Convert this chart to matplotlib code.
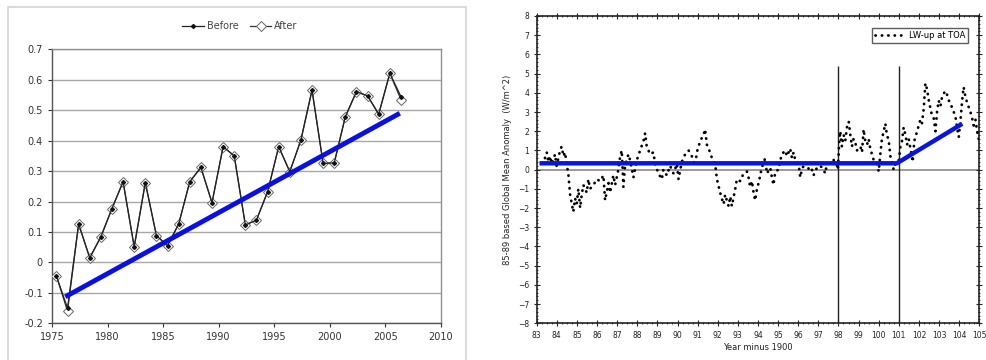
import numpy as np
import matplotlib
matplotlib.use("Agg")
import matplotlib.pyplot as plt
from matplotlib.patches import Rectangle
from matplotlib.ticker import MultipleLocator

# ---------------- Left panel data ----------------
years = [1975, 1976, 1977, 1978, 1979, 1980, 1981, 1982, 1983, 1984, 1985,
         1986, 1987, 1988, 1989, 1990, 1991, 1992, 1993, 1994, 1995, 1996,
         1997, 1998, 1999, 2000, 2001, 2002, 2003, 2004, 2005, 2006]
before = [-0.045, -0.150, 0.126, 0.015, 0.084, 0.177, 0.265, 0.051, 0.262,
          0.088, 0.055, 0.126, 0.265, 0.312, 0.196, 0.380, 0.350, 0.123,
          0.139, 0.232, 0.380, 0.298, 0.402, 0.566, 0.325, 0.327, 0.479,
          0.561, 0.547, 0.487, 0.621, 0.545]
after = [-0.045, -0.160, 0.126, 0.015, 0.084, 0.177, 0.265, 0.051, 0.262,
         0.088, 0.055, 0.126, 0.265, 0.312, 0.196, 0.380, 0.350, 0.123,
         0.139, 0.232, 0.380, 0.298, 0.402, 0.566, 0.325, 0.327, 0.479,
         0.561, 0.547, 0.487, 0.621, 0.535]
trend_x = [1976.2, 2006.3]
trend_y = [-0.113, 0.490]
left_xticks = [1975, 1980, 1985, 1990, 1995, 2000, 2005, 2010]
left_yticks = [-0.2, -0.1, 0.0, 0.1, 0.2, 0.3, 0.4, 0.5, 0.6, 0.7]
left_yticklabels = ["-0.2", "-0.1", "0", "0.1", "0.2", "0.3", "0.4", "0.5", "0.6", "0.7"]

# ---------------- Right panel data ----------------
lw_years = [83.41, 83.50, 83.58, 83.66, 83.75, 83.83, 83.91, 83.99, 84.08, 84.16,
            84.24, 84.33, 84.41, 84.49, 84.58, 84.66, 84.82, 84.91, 84.99, 85.07,
            85.16, 85.24, 85.32, 85.49, 85.57, 85.65, 85.82, 85.99, 86.15, 86.32,
            86.40, 86.57, 86.65, 86.81, 86.90, 87.06, 87.15, 87.23, 87.31, 87.39,
            87.56, 87.64, 87.81, 87.98, 88.14, 88.31, 88.39, 88.47, 88.64, 88.80,
            88.89, 89.05, 89.22, 89.30, 89.47, 89.63, 89.80, 89.97, 90.05, 90.21,
            90.38, 90.55, 90.71, 90.88, 90.96, 91.13, 91.29, 91.37, 91.46, 91.62,
            91.71, 91.87, 91.96, 92.12, 92.20, 92.29, 92.37, 92.45, 92.54, 92.62,
            92.70, 92.87, 92.95, 93.12, 93.28, 93.45, 93.53, 93.61, 93.70, 93.78,
            93.86, 93.95, 94.03, 94.11, 94.19, 94.36, 94.44, 94.61, 94.69, 94.77,
            94.86, 95.02, 95.11, 95.19, 95.35, 95.44, 95.60, 95.69, 95.77, 95.85,
            96.02, 96.10, 96.18, 96.35, 96.43, 96.60, 96.68, 96.76, 96.93, 97.10,
            97.26, 97.34, 97.43, 97.59, 97.76, 97.93, 97.97, 98.04, 98.09, 98.17,
            98.26, 98.34, 98.42, 98.51, 98.59, 98.67, 98.75, 98.84, 98.92, 99.09,
            99.17, 99.25, 99.33, 99.42, 99.50, 99.58, 99.75, 99.92, 100.00, 100.08,
            100.16, 100.25, 100.33, 100.41, 100.50, 100.58, 100.66, 100.74, 100.83, 100.99,
            101.08, 101.16, 101.24, 101.33, 101.41, 101.49, 101.61, 101.69, 101.77, 101.91,
            102.07, 102.15, 102.24, 102.32, 102.40, 102.49, 102.57, 102.65, 102.73, 102.82,
            102.90, 102.98, 103.07, 103.15, 103.31, 103.40, 103.48, 103.56, 103.65, 103.73,
            103.81, 103.89, 103.98, 104.06, 104.14, 104.22, 104.31, 104.39, 104.56, 104.64,
            104.72, 104.81, 104.89, 104.97]
lw_values = [0.6, 0.9, 0.4, 0.7, 0.3, 0.5, 0.8, 0.2, 0.6, 1.0,
             1.2, 0.7, 0.9, 0.3, -0.3, -1.3, -2.2, -1.5, -1.8, -1.0,
             -2.0, -1.3, -0.8, -1.2, -0.5, -1.0, -0.8, -0.5, -0.6, -0.3,
             -1.6, -0.7, -1.2, -0.3, -0.8, 0.0, 0.7, 1.0, -0.9, 0.2,
             0.8, 0.5, -0.4, 0.5, 1.0, 1.5, 1.9, 1.2, 0.8, 0.9,
             0.3, -0.2, -0.5, 0.0, -0.3, 0.2, -0.2, 0.3, -0.5, 0.4,
             0.8, 1.0, 0.7, 0.2, 0.9, 1.5, 1.8, 2.1, 1.3, 0.9,
             0.6, 0.3, -0.5, -1.2, -1.5, -1.8, -1.3, -1.6, -1.9, -1.4,
             -1.9, -1.0, -0.5, -0.6, -0.2, -0.1, -0.4, -0.9, -0.6, -1.2,
             -1.6, -1.0, -0.7, -0.3, 0.1, 0.6, -0.2, 0.1, -0.4, -0.8,
             -0.1, 0.0, 0.5, 0.8, 1.0, 0.7, 1.1, 0.6, 0.9, 0.5,
             0.3, -0.4, 0.0, 0.4, 0.2, -0.1, 0.0, -0.3, 0.1, 0.2,
             0.0, -0.2, 0.3, 0.4, 0.5, 0.2, 0.0, 1.5, 2.0, 1.2,
             1.8, 1.5, 2.2, 2.5, 1.8, 1.2, 1.6, 1.4, 1.0, 1.2,
             0.9, 2.1, 1.5, 1.3, 1.6, 1.1, 0.5, 0.3, -0.1, 0.8,
             1.6, 2.0, 2.4, 1.8, 1.5, 0.7, 0.5, 0.0, 0.3, 0.4,
             1.2, 1.5, 2.2, 1.8, 1.3, 1.6, 0.9, 0.4, 1.5, 2.0,
             2.6, 2.4, 3.2, 4.5, 4.2, 3.6, 3.2, 2.8, 2.7, 2.0,
             3.0, 3.6, 3.3, 3.8, 4.1, 3.9, 3.6, 3.5, 3.2, 3.0,
             2.8, 2.2, 1.7, 2.5, 3.5, 4.3, 3.8, 3.5, 3.0, 2.7,
             2.3, 2.6, 2.0, 1.6]
fit_x = [83.25, 100.9, 104.06]
fit_y = [0.33, 0.33, 2.33]
break_years = [98, 101]
break_top = 5.4
right_xticks = list(range(83, 106))
right_yticks = list(range(-8, 9))

# ---------------- Figure ----------------
fig = plt.figure(figsize=(9.86, 3.6), dpi=100)
fig.patch.set_facecolor("white")

# light outer frame of the left (Excel) chart
fig.patches.append(Rectangle((8 / 986, -0.05), 458 / 986, 1 - 7 / 360 + 0.05,
                             transform=fig.transFigure, fill=False,
                             edgecolor="#d4d4d4", linewidth=1.2))

# ---- Left axes ----
ax1 = fig.add_axes([0.0527, 0.102, 0.3945, 0.761])
ax1.set_xlim(1975, 2010)
ax1.set_ylim(-0.2, 0.7)
ax1.set_yticks(left_yticks)
ax1.set_yticklabels(left_yticklabels)
ax1.set_xticks(left_xticks)
ax1.grid(axis="y", color="#a8a8a8", linewidth=1.0)
ax1.set_axisbelow(True)
for s in ax1.spines.values():
    s.set_color("#909090")
    s.set_linewidth(1.0)
ax1.spines["left"].set_color("#555555")
ax1.spines["bottom"].set_color("#555555")
ax1.tick_params(labelsize=7, colors="#333333", length=3, width=0.8, direction="out")

xpos = np.array(years) + 0.4
ax1.plot(xpos, after, color="#333333", linewidth=0.9, marker="D", markersize=5.5,
         markerfacecolor="white", markeredgecolor="#666666", markeredgewidth=0.7,
         label="After", zorder=3)
ax1.plot(xpos, before, color="#222222", linewidth=0.9, marker="D", markersize=2.0,
         markerfacecolor="#111111", markeredgecolor="#111111",
         label="Before", zorder=4)
ax1.plot(trend_x, trend_y, color="#0a10e0", linewidth=3.5, solid_capstyle="butt", zorder=5)

h, l = ax1.get_legend_handles_labels()
fig.legend([h[1], h[0]], [l[1], l[0]], loc="center", bbox_to_anchor=(240 / 986, 1 - 26 / 360),
           ncol=2, frameon=False, fontsize=7, handlelength=2.2, columnspacing=1.2,
           handletextpad=0.3, labelcolor="#444444")

# ---- Right axes ----
ax2 = fig.add_axes([0.5443, 0.102, 0.4489, 0.8536])
ax2.set_xlim(83, 105)
ax2.set_ylim(-8, 8)
ax2.set_xticks(right_xticks)
ax2.set_yticks(right_yticks)
ax2.xaxis.set_minor_locator(MultipleLocator(0.25))
ax2.yaxis.set_minor_locator(MultipleLocator(0.2))
ax2.tick_params(which="both", direction="inout", top=True, right=True,
                labeltop=False, labelright=False, colors="#222222", labelsize=5.5)
ax2.tick_params(which="major", length=4, width=0.8)
ax2.tick_params(which="minor", length=2, width=0.6)
for s in ax2.spines.values():
    s.set_color("#222222")
    s.set_linewidth(1.2)

ax2.axhline(0, color="#8a8a8a", linewidth=1.2, zorder=1)
ax2.vlines(break_years, -8, break_top, color="#222222", linewidth=1.0, zorder=2)
ax2.plot(lw_years, lw_values, color="black", linewidth=2.0, linestyle=(0, (0.1, 2.2)),
         dash_capstyle="round", label="LW-up at TOA", zorder=3)
ax2.plot(fit_x, fit_y, color="#0a14e0", linewidth=3.2, solid_joinstyle="round", zorder=4)

ax2.legend(loc="upper right", fontsize=6, frameon=True, fancybox=False,
           edgecolor="#333333", handlelength=3.2, borderpad=0.4,
           bbox_to_anchor=(0.985, 0.975))
ax2.set_xlabel("Year minus 1900", fontsize=6, labelpad=2, color="#222222")
ax2.set_ylabel("85-89 based Global Mean Anomaly  (W/m^2)", fontsize=6, labelpad=4,
               color="#222222")

fig.savefig("out.png", dpi=100, facecolor="white")
